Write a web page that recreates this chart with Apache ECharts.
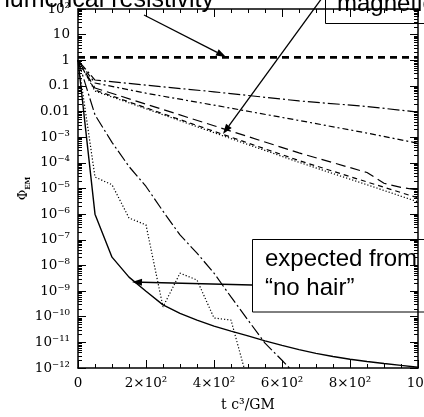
<!DOCTYPE html>
<html><head><meta charset="utf-8">
<script src="https://cdn.jsdelivr.net/npm/echarts@6/dist/echarts.min.js"></script>
<style>html,body{margin:0;padding:0;background:#fff}#c{width:424px;height:417px}</style>
</head><body><div id="c"></div>
<script>
// ---- data: time t c^3/GM and Phi_EM ----
const horizT   = [0, 1000];
const horizPhi = [1.3, 1.3];

const dashDot1T   = [0, 50, 200, 400, 650, 850, 1000];
const dashDot1Phi = [1, 0.17, 0.107, 0.059, 0.026, 0.0158, 0.0095];

const dashDot2T   = [0, 50, 200, 400, 650, 850, 1000];
const dashDot2Phi = [1, 0.13, 0.052, 0.0178, 0.0045, 0.00145, 5.8e-4];

const longDashT   = [0, 50, 200, 400, 650, 850, 900, 950, 1000];
const longDashPhi = [1, 0.083, 0.0195, 0.0028, 2.45e-4, 4.2e-5, 1.6e-5, 1.1e-5, 8.7e-6];

const dashT   = [0, 50, 200, 400, 650, 850, 1000];
const dashPhi = [1, 0.069, 0.014, 0.0017, 1.23e-4, 1.8e-5, 4.3e-6];

const dotT   = [0, 50, 200, 400, 650, 850, 1000];
const dotPhi = [1, 0.063, 0.0129, 0.0015, 1.05e-4, 1.4e-5, 3.0e-6];

const steepDashDotT   = [0, 50, 100, 150, 200, 250, 300, 350, 400, 450, 500, 550, 600, 650];
const steepDashDotPhi = [1, 0.0074, 6.3e-4, 7.2e-5, 1.2e-5, 1.3e-6, 1.55e-7, 3.0e-8, 5.0e-9, 5.9e-10, 7.4e-11, 9.3e-12, 2.0e-12, 4.1e-13];

const steepDotT   = [0, 50, 100, 150, 200, 250, 300, 350, 400, 450, 500];
const steepDotPhi = [1, 2.8e-5, 1.4e-5, 7.1e-7, 3.8e-7, 2.4e-10, 5.0e-9, 2.7e-9, 8.9e-11, 7.4e-11, 2.8e-13];

const solidT   = [0, 50, 100, 150, 200, 250, 300, 350, 400, 450, 500, 550, 600, 650, 700, 750, 800, 850, 900, 950, 1000];
const solidPhi = [1, 1.0e-6, 2.1e-8, 3.5e-9, 9.8e-10, 2.9e-10, 1.35e-10, 7.4e-11, 4.3e-11, 2.75e-11, 1.8e-11, 1.15e-11, 7.6e-12, 5.2e-12, 3.7e-12, 2.8e-12, 2.2e-12, 1.8e-12, 1.5e-12, 1.26e-12, 1.07e-12];

const xTickLabels = ['0', '2×10²', '4×10²', '6×10²', '8×10²', '10³'];
const yTickLabels = ['10⁻¹²', '10⁻¹¹', '10⁻¹⁰', '10⁻⁹', '10⁻⁸', '10⁻⁷', '10⁻⁶', '10⁻⁵', '10⁻⁴', '10⁻³', '0.01', '0.1', '1', '10', '10²'];

// ---- chart ----
const pairs = (T, P) => T.map((t, i) => [t, P[i]]);
const SERIF = '"DejaVu Serif", serif';
const SANS = '"Liberation Sans", Arial, sans-serif';

function line(T, P, dash, width) {
  return {
    type: 'line', data: pairs(T, P), symbol: 'none', smooth: false, clip: true,
    xAxisIndex: 0, yAxisIndex: 0, silent: true,
    lineStyle: { color: '#000', width: width, type: dash }
  };
}

function axisCommon(extra) {
  return Object.assign({
    axisLine: { show: true, onZero: false, lineStyle: { color: '#000', width: 1.5 } },
    axisTick: { show: true, inside: true, length: 8, lineStyle: { color: '#000', width: 1 } },
    splitLine: { show: false },
    minorSplitLine: { show: false }
  }, extra);
}

function arrow(x1, y1, x2, y2) {
  const dx = x2 - x1, dy = y2 - y1, L = Math.sqrt(dx * dx + dy * dy);
  const ux = dx / L, uy = dy / L, hl = 10, hw = 3.5;
  const bx = x2 - ux * hl, by = y2 - uy * hl;
  return [
    { type: 'line', z: 50, shape: { x1: x1, y1: y1, x2: bx, y2: by }, style: { stroke: '#000', lineWidth: 1.3 } },
    { type: 'polygon', z: 50, shape: { points: [[x2, y2], [bx - uy * hw, by + ux * hw], [bx + uy * hw, by - ux * hw]] }, style: { fill: '#000' } }
  ];
}

const chart = echarts.init(document.getElementById('c'), null, { renderer: 'canvas' });
chart.setOption({
  animation: false,
  backgroundColor: '#fff',
  textStyle: { fontFamily: SERIF },
  grid: { left: 78, right: 6, top: 9, bottom: 49, outerBoundsMode: 'none', containLabel: false },
  xAxis: [
    axisCommon({
      type: 'value', position: 'bottom', min: 0, max: 1000, interval: 200,
      minorTick: { show: true, splitNumber: 4, length: 4, lineStyle: { color: '#000', width: 1 } },
      axisLabel: { color: '#000', fontFamily: SERIF, fontSize: 13.5, margin: 8, showMinLabel: true, showMaxLabel: true,
        formatter: v => xTickLabels[Math.round(v / 200)] },
      name: 't c³/GM', nameLocation: 'middle', nameGap: 30,
      nameTextStyle: { color: '#000', fontFamily: SERIF, fontSize: 14 }
    }),
    axisCommon({
      type: 'value', position: 'top', min: 0, max: 1000, interval: 200,
      minorTick: { show: true, splitNumber: 4, length: 4, lineStyle: { color: '#000', width: 1 } },
      axisLabel: { show: false }
    })
  ],
  yAxis: [
    axisCommon({
      type: 'log', logBase: 10, position: 'left', min: 1e-12, max: 100, interval: 1, splitNumber: 14,
      minorTick: { show: true, splitNumber: 9, length: 4, lineStyle: { color: '#000', width: 1 } },
      axisLabel: { color: '#000', fontFamily: SERIF, fontSize: 13.5, margin: 8, showMinLabel: true, showMaxLabel: true,
        formatter: v => yTickLabels[Math.round(Math.log10(v)) + 12] },
      name: '{p|Φ}{s|EM}', nameLocation: 'middle', nameGap: 46, nameMoveOverlap: false,
      nameTextStyle: { color: '#000', rich: {
        p: { fontFamily: SERIF, fontSize: 13, color: '#000', lineHeight: 16 },
        s: { fontFamily: SERIF, fontSize: 7, fontWeight: 'bold', color: '#000', verticalAlign: 'bottom', lineHeight: 16 }
      } }
    }),
    axisCommon({
      type: 'log', logBase: 10, position: 'right', min: 1e-12, max: 100, interval: 1, splitNumber: 14,
      minorTick: { show: true, splitNumber: 9, length: 4, lineStyle: { color: '#000', width: 1 } },
      axisLabel: { show: false }
    })
  ],
  series: [
    line(horizT, horizPhi, [7, 5], 2.6),
    line(dashDot1T, dashDot1Phi, [12, 3, 2, 3], 1.2),
    line(dashDot2T, dashDot2Phi, [6, 3, 2, 3], 1.2),
    line(longDashT, longDashPhi, [10, 5], 1.2),
    line(dashT, dashPhi, [5, 4], 1.2),
    line(dotT, dotPhi, [1.2, 2], 1.2),
    line(steepDashDotT, steepDashDotPhi, [12, 3, 2, 3], 1.2),
    line(steepDotT, steepDotPhi, [1.2, 2], 1.2),
    line(solidT, solidPhi, 'solid', 1.4)
  ],
  graphic: [
    { type: 'text', z: 50, style: { text: 'numerical resistivity', x: 214, y: 0, align: 'right', verticalAlign: 'middle', font: '25px ' + SANS, fill: '#000' } },
    { type: 'rect', z: 50, shape: { x: 325.5, y: -20, width: 200, height: 43.5 }, style: { fill: 'none', stroke: '#000', lineWidth: 1 } },
    { type: 'text', z: 50, style: { text: 'magnetic field', x: 337, y: 4.5, align: 'left', verticalAlign: 'middle', font: '24px ' + SANS, fill: '#000' } },
    { type: 'rect', z: 50, shape: { x: 252.5, y: 239.5, width: 200, height: 72.5 }, style: { fill: 'none', stroke: '#000', lineWidth: 1 } },
    { type: 'text', z: 50, style: { text: 'expected from', x: 265, y: 259.5, align: 'left', verticalAlign: 'middle', font: '24px ' + SANS, fill: '#000' } },
    { type: 'text', z: 50, style: { text: '“no hair”', x: 265, y: 288.5, align: 'left', verticalAlign: 'middle', font: '24px ' + SANS, fill: '#000' } }
  ].concat(arrow(144, 15, 226, 57), arrow(322, -2, 223, 134), arrow(252, 285, 132, 282))
});
</script>
</body></html>
